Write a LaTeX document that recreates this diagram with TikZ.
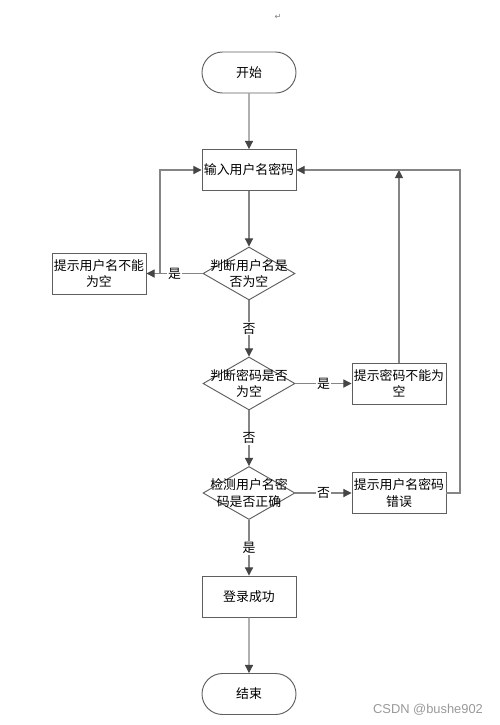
\documentclass[tikz,border=0pt]{standalone}
\usepackage{fontspec}
\usepackage{tikz}
\usepackage{xcolor}
\setmainfont{Noto Sans CJK SC}
\newfontfamily\markfont{DejaVu Sans}
\newfontfamily\wmfont{Liberation Sans}
\usetikzlibrary{positioning, arrows.meta}
\usetikzlibrary{shapes, positioning}

\definecolor{linegray}{HTML}{858585}
\definecolor{boxgray}{HTML}{5F5F5F}
\definecolor{tipgray}{HTML}{454545}

\tikzset{
    flow/.style={draw=linegray, line width=0.9pt, -{Triangle[length=7pt, width=7pt, fill=tipgray, color=tipgray]}},
    plain/.style={draw=linegray, line width=0.9pt},
    procbox/.style={rectangle, draw=boxgray, line width=0.8pt, minimum width=2.82cm, minimum height=1.23cm, align=center, inner sep=0pt},
    termbox/.style={rounded rectangle, draw=boxgray, line width=0.8pt, minimum width=2.82cm, minimum height=1.23cm, inner sep=0pt},
    decision/.style={diamond, draw=boxgray, line width=0.8pt, minimum width=2.76cm, minimum height=1.59cm, inner sep=0pt},
    yesno/.style={fill=white, inner sep=1pt}
}

\begin{document}
\begin{tikzpicture}[font=\fontsize{11}{14}\selectfont]
                \useasboundingbox (0, 0) rectangle (15, -21.75);

                \node[text=gray, font=\markfont\fontsize{7}{8}\selectfont] (para) at (8.34, -0.51) {↵};

                \node[termbox] (start) at (7.47, -2.175) {开始};
                \node[procbox] (input) at (7.47, -5.10) {输入用户名密码};
                \node[decision, label={[align=center]center:判断用户名是\\否为空}] (chkuser) at (7.47, -8.205) {};
                \node[procbox] (nouser) at (2.97, -8.205) {提示用户名不能\\为空};
                \node[decision, label={[align=center]center:判断密码是否\\为空}] (chkpwd) at (7.47, -11.505) {};
                \node[procbox] (nopwd) at (11.97, -11.505) {提示密码不能为\\空};
                \node[decision, label={[align=center]center:检测用户名密\\码是否正确}] (chkboth) at (7.47, -14.79) {};
                \node[procbox] (wrong) at (11.97, -14.79) {提示用户名密码\\错误};
                \node[procbox] (ok) at (7.47, -17.895) {登录成功};
                \node[termbox] (stop) at (7.47, -20.82) {结束};

                \coordinate (leftup) at (4.8, -5.10);
                \coordinate (leftdown) at (4.8, -8.205);
                \coordinate (pwdup) at (11.97, -5.10);
                \coordinate (rightup) at (13.8, -5.10);
                \coordinate (rightdown) at (13.8, -14.79);

                \draw[flow] (start) -- (input);
                \draw[flow] (input) -- (chkuser);
                \draw[flow] (chkuser) -- node[yesno] {是} (nouser);
                \draw[flow] (leftdown) -- (leftup) -- (input);
                \draw[flow] (chkuser) -- node[yesno] {否} (chkpwd);
                \draw[flow] (chkpwd) -- node[yesno] {是} (nopwd);
                \draw[flow] (nopwd) -- (pwdup);
                \draw[flow] (chkpwd) -- node[yesno] {否} (chkboth);
                \draw[flow] (chkboth) -- node[yesno] {否} (wrong);
                \draw[flow] (wrong.east) -- (rightdown) -- (rightup) -- (input);
                \draw[flow] (chkboth) -- node[yesno] {是} (ok);
                \draw[flow] (ok) -- (stop);

                \node[text=gray!80, font=\wmfont\fontsize{11}{13}\selectfont] (mark) at (12.84, -21.3) {CSDN @bushe902};
            \end{tikzpicture}
\end{document}
